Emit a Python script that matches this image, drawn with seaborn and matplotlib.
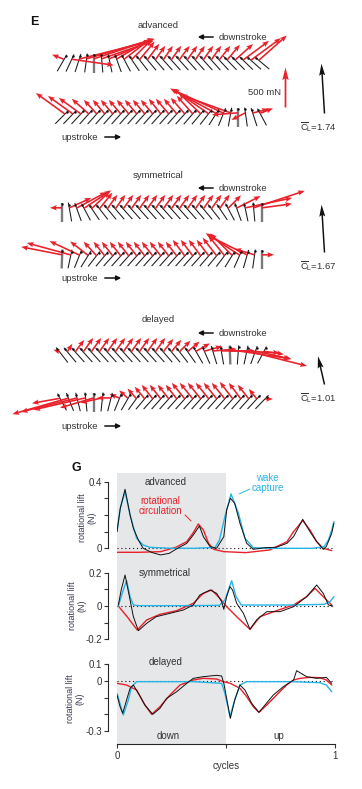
import numpy as np
import matplotlib
matplotlib.use("Agg")
import matplotlib.pyplot as plt
from matplotlib.collections import LineCollection
import seaborn as sns

# ---------------- panel E : wing chords (pitch, deg) and forces (mN), left -> right
conditions = ["advanced", "symmetrical", "delayed"]
cl_values = [1.74, 1.67, 1.01]
cl_tilt_deg = [3.5, 3.5, 13.0]

adv_down_pitch = [60, 65, 72, 82, 90, 95, 102, 110, 118, 124, 128, 130, 131, 132, 132, 132, 132, 132, 132, 132, 133, 134, 135, 136, 138, 140]
adv_down_fx = [-150, 525, 900, 850, 750, 650, 525, 425, 325, 250, 190, 150, 125, 120, 125, 130, 125, 120, 125, 125, 140, 160, 225, 325, 375, 350]
adv_down_fy = [60, -75, 225, 250, 250, 225, 225, 250, 250, 250, 225, 200, 175, 175, 175, 175, 175, 175, 175, 175, 175, 190, 200, 240, 275, 310]

adv_up_pitch = [45, 46, 47, 48, 48, 48, 48, 48, 48, 48, 48, 48, 48, 48, 48, 48, 49, 50, 52, 58, 68, 80, 90, 98, 108, 118]
adv_up_fx = [-362, -312, -275, -212, -162, -150, -150, -150, -150, -150, -150, -150, -150, -162, -162, -175, -200, -275, -450, -575, -650, -625, -325, -175, 200, 162]
adv_up_fy = [262, 225, 200, 188, 175, 175, 175, 175, 175, 175, 175, 175, 188, 188, 188, 200, 225, 262, 312, 312, 300, 225, -25, -88, 50, 62]

sym_down_pitch = [90, 100, 110, 118, 124, 128, 130, 131, 132, 132, 132, 132, 132, 132, 132, 132, 132, 131, 130, 128, 124, 118, 110, 102, 95, 90]
sym_down_fx = [-150, 275, 375, 338, 225, 162, 125, 125, 125, 125, 125, 125, 125, 125, 125, 125, 125, 125, 125, 125, 125, 162, 300, 588, 638, 375]
sym_down_fy = [0, 125, 200, 225, 212, 200, 175, 175, 175, 175, 175, 175, 175, 175, 175, 175, 175, 175, 175, 175, 175, 162, 150, 125, 212, 50]

sym_up_pitch = [88, 78, 68, 58, 52, 50, 48, 48, 48, 48, 48, 48, 48, 48, 48, 48, 48, 48, 49, 50, 53, 58, 66, 74, 82, 90]
sym_up_fx = [-512, -550, -375, -225, -162, -138, -138, -138, -138, -138, -138, -138, -138, -138, -138, -150, -150, -150, -150, -175, -200, -275, -425, -500, -250, 150]
sym_up_fy = [100, 150, 175, 175, 175, 175, 175, 175, 175, 175, 175, 175, 175, 175, 175, 200, 200, 200, 200, 225, 250, 275, 275, 250, 75, 0]

del_down_pitch = [128, 130, 132, 132, 132, 132, 132, 132, 132, 132, 132, 132, 132, 131, 130, 128, 125, 120, 114, 107, 100, 92, 86, 78, 70, 62]
del_down_fx = [-75, 62, 112, 125, 125, 125, 125, 125, 125, 125, 125, 125, 125, 125, 125, 138, 150, 175, 225, 300, 425, 625, 650, 750, 450, 250]
del_down_fy = [25, 100, 150, 175, 175, 175, 175, 175, 175, 175, 175, 175, 175, 162, 150, 138, 125, 100, 62, 25, 0, -25, -100, -188, -100, -38]

del_up_pitch = [118, 112, 104, 96, 90, 84, 76, 68, 60, 54, 50, 48, 48, 48, 48, 48, 48, 48, 48, 48, 48, 48, 48, 48, 47, 46]
del_up_fx = [-350, -700, -700, -650, -425, -275, -175, -125, -112, -112, -125, -138, -138, -138, -138, -162, -162, -162, -162, -162, -162, -162, -150, -138, -100, 100]
del_up_fy = [-62, -200, -175, -150, -125, -62, 0, 50, 100, 125, 150, 175, 175, 175, 175, 200, 200, 200, 200, 200, 200, 212, 200, 175, 125, 0]

# ---------------- panel G : rotational lift (N) over one cycle
adv_meas_t = [0.0, 0.015, 0.037, 0.06, 0.075, 0.098, 0.12, 0.16, 0.2, 0.24, 0.27, 0.32, 0.35, 0.378, 0.396, 0.427, 0.457, 0.49, 0.503, 0.52, 0.54, 0.564, 0.595, 0.625, 0.68, 0.73, 0.78, 0.81, 0.852, 0.885, 0.916, 0.946, 0.96, 0.985, 0.995]
adv_meas = [0.10, 0.24, 0.354, 0.2, 0.12, 0.05, 0.0, -0.025, -0.04, -0.03, -0.006, 0.03, 0.08, 0.134, 0.07, 0.01, 0.0, 0.07, 0.23, 0.30, 0.27, 0.15, 0.03, -0.006, 0.004, 0.006, 0.03, 0.07, 0.174, 0.10, 0.04, -0.006, 0.01, 0.09, 0.15]
adv_wake_t = [0.0, 0.015, 0.037, 0.06, 0.09, 0.12, 0.15, 0.25, 0.35, 0.45, 0.47, 0.495, 0.523, 0.557, 0.587, 0.625, 0.7, 0.8, 0.9, 0.95, 0.97, 0.985, 0.995]
adv_wake = [0.10, 0.24, 0.34, 0.2, 0.06, 0.02, 0.006, 0.0, 0.0, 0.005, 0.05, 0.19, 0.326, 0.21, 0.06, 0.004, 0.0, 0.0, 0.0, 0.01, 0.05, 0.11, 0.16]
adv_rot_t = [0.0, 0.1, 0.2, 0.27, 0.32, 0.35, 0.373, 0.396, 0.42, 0.443, 0.49, 0.59, 0.7, 0.78, 0.81, 0.852, 0.885, 0.916, 0.946, 0.985]
adv_rot = [-0.024, -0.024, -0.02, 0.006, 0.04, 0.094, 0.146, 0.11, 0.03, -0.006, -0.02, -0.026, -0.01, 0.04, 0.1, 0.166, 0.11, 0.04, 0.0, -0.014]

sym_meas_t = [0.006, 0.02, 0.037, 0.06, 0.075, 0.098, 0.136, 0.18, 0.243, 0.304, 0.35, 0.38, 0.427, 0.457, 0.48, 0.49, 0.503, 0.518, 0.53, 0.549, 0.58, 0.61, 0.64, 0.687, 0.748, 0.81, 0.87, 0.916, 0.946, 0.97, 0.99]
sym_meas = [0.006, 0.1, 0.186, 0.036, -0.064, -0.148, -0.104, -0.064, -0.044, -0.024, 0.006, 0.066, 0.096, 0.076, 0.026, -0.02, 0.056, 0.116, 0.096, 0.016, -0.044, -0.14, -0.084, -0.034, -0.034, -0.004, 0.056, 0.126, 0.076, 0.006, 0.0]
sym_wake_t = [0.006, 0.029, 0.044, 0.06, 0.075, 0.1, 0.3, 0.47, 0.495, 0.526, 0.546, 0.57, 0.6, 0.8, 0.95, 0.977, 0.995]
sym_wake = [0.0, 0.096, 0.152, 0.056, 0.006, 0.002, 0.002, 0.004, 0.036, 0.152, 0.056, 0.006, 0.006, 0.006, 0.01, 0.026, 0.056]
sym_rot_t = [0.006, 0.05, 0.093, 0.136, 0.197, 0.274, 0.35, 0.396, 0.434, 0.472, 0.503, 0.549, 0.61, 0.656, 0.732, 0.81, 0.87, 0.908, 0.946, 0.985]
sym_rot = [0.0, -0.07, -0.144, -0.084, -0.05, -0.028, 0.016, 0.076, 0.096, 0.046, -0.004, -0.064, -0.14, -0.064, -0.028, 0.006, 0.056, 0.106, 0.056, 0.006]

del_meas_t = [0.0, 0.014, 0.026, 0.044, 0.06, 0.075, 0.098, 0.128, 0.164, 0.197, 0.228, 0.274, 0.32, 0.35, 0.396, 0.457, 0.48, 0.49, 0.51, 0.52, 0.54, 0.564, 0.587, 0.618, 0.651, 0.679, 0.717, 0.763, 0.81, 0.824, 0.87, 0.916, 0.96, 0.985]
del_meas = [-0.084, -0.154, -0.194, -0.114, -0.044, -0.024, -0.074, -0.144, -0.2, -0.164, -0.104, -0.064, -0.014, 0.016, 0.026, 0.034, 0.03, -0.014, -0.154, -0.224, -0.114, -0.024, -0.054, -0.134, -0.188, -0.144, -0.084, -0.034, 0.006, 0.062, 0.026, 0.016, 0.022, -0.014]
del_wake_t = [0.0, 0.029, 0.052, 0.067, 0.09, 0.2, 0.35, 0.48, 0.495, 0.518, 0.54, 0.564, 0.595, 0.8, 0.93, 0.96, 0.985]
del_wake = [-0.074, -0.204, -0.114, -0.034, -0.004, -0.004, -0.004, -0.014, -0.074, -0.214, -0.114, -0.024, -0.004, -0.004, -0.01, -0.024, -0.064]
del_rot_t = [0.0, 0.044, 0.09, 0.128, 0.159, 0.197, 0.243, 0.289, 0.35, 0.396, 0.457, 0.488, 0.52, 0.564, 0.595, 0.625, 0.651, 0.687, 0.732, 0.778, 0.81, 0.84, 0.885, 0.93, 0.96, 0.985]
del_rot = [-0.014, -0.024, -0.054, -0.144, -0.2, -0.154, -0.084, -0.024, 0.006, 0.016, 0.012, -0.004, -0.014, -0.044, -0.094, -0.154, -0.188, -0.144, -0.084, -0.024, 0.006, 0.016, 0.022, 0.02, 0.006, -0.024]

adv_ticks = [0, 0.1, 0.2, 0.3, 0.4]
adv_ticklabels = ["0", "", "", "", "0.4"]
sym_ticks = [-0.2, -0.1, 0, 0.1, 0.2]
sym_ticklabels = ["-0.2", "", "0", "", "0.2"]
del_ticks = [-0.3, -0.2, -0.1, 0, 0.1]
del_ticklabels = ["-0.3", "", "", "0", "0.1"]

RED = "#e8212b"
CYAN = "#27b4e6"
GREY = "#e6e7e8"
TXT = "#333333"

sns.set_style("ticks")
plt.rcParams["font.family"] = ["Liberation Sans", "DejaVu Sans"]
plt.rcParams["mathtext.fontset"] = "custom"
plt.rcParams["mathtext.rm"] = "Liberation Sans"
plt.rcParams["mathtext.it"] = "Liberation Sans:italic"

W, H = 362, 789
fig = plt.figure(figsize=(W / 100, H / 100), dpi=100)

# canvas in pixel units for panel E
cv = fig.add_axes([0, 0, 1, 1])
cv.set_xlim(0, W)
cv.set_ylim(H, 0)
cv.axis("off")

CHORD = 19
N_SCALE = 12.5          # mN per pixel
xs = 62 + 8 * np.arange(26)

rows = [
    (adv_down_pitch, adv_down_fx, adv_down_fy, 63),
    (adv_up_pitch, adv_up_fx, adv_up_fy, 117),
    (sym_down_pitch, sym_down_fx, sym_down_fy, 212),
    (sym_up_pitch, sym_up_fx, sym_up_fy, 259),
    (del_down_pitch, del_down_fx, del_down_fy, 355),
    (del_up_pitch, del_up_fx, del_up_fy, 402),
]

for pitch, fx, fy, yrow in rows:
    phi = np.deg2rad(np.array(pitch))
    ux, uy = np.cos(phi), -np.sin(phi)
    h = CHORD / 2
    segs = [[(x - h * a, yrow - h * b), (x + h * a, yrow + h * b)] for x, a, b in zip(xs, ux, uy)]
    vert = np.abs(np.array(pitch) - 90) < 3
    cols = ["#7a7a7a" if v else "#1a1a1a" for v in vert]
    lws = [1.7 if v else 0.75 for v in vert]
    cv.add_collection(LineCollection(segs, colors=cols, linewidths=lws, zorder=2))
    cv.quiver(xs + 0.22 * CHORD * ux, yrow + 0.22 * CHORD * uy, np.array(fx), -np.array(fy),
              angles="xy", scale_units="xy", scale=N_SCALE, color=RED, units="dots",
              width=1.6, headwidth=3.3, headlength=4.2, headaxislength=3.7, zorder=3)
    cv.scatter(xs + 0.4 * CHORD * ux, yrow + 0.4 * CHORD * uy, s=3, color="#111111",
               linewidths=0, zorder=4)

title_y = [25, 175, 319]
down_y = [37, 188, 333]
up_y = [137, 278, 426]
cl_text_y = [127, 266, 398]
CL_LEN = 28.7
for i, name in enumerate(conditions):
    cv.text(158, title_y[i], name, ha="center", va="center", fontsize=6.8, color=TXT)
    cv.annotate("", xy=(195, down_y[i]), xytext=(216, down_y[i]),
                arrowprops=dict(arrowstyle="-|>", color="#111111", lw=1.1, mutation_scale=7))
    cv.text(219, down_y[i], "downstroke", ha="left", va="center", fontsize=6.8, color=TXT)
    cv.text(98, up_y[i], "upstroke", ha="right", va="center", fontsize=6.8, color=TXT)
    cv.annotate("", xy=(124, up_y[i]), xytext=(102, up_y[i]),
                arrowprops=dict(arrowstyle="-|>", color="#111111", lw=1.1, mutation_scale=7))
    L = CL_LEN * cl_values[i]
    a = np.deg2rad(cl_tilt_deg[i])
    cv.quiver([324], [cl_text_y[i] - 14], [-L * np.sin(a)], [-L * np.cos(a)], angles="xy",
              scale_units="xy", scale=1, color="#111111", units="dots", width=1.5,
              headwidth=4, headlength=8, headaxislength=7, zorder=3)
    cv.text(300, cl_text_y[i], r"$\overline{\mathrm{C}}_\mathrm{L}$" + f"={cl_values[i]:.2f}",
            ha="left", va="center", fontsize=6.8, color=TXT)

# 500 mN scale bar
cv.quiver([285], [107], [0], [-500], angles="xy", scale_units="xy", scale=N_SCALE, color=RED,
          units="dots", width=1.7, headwidth=3.8, headlength=7.5, headaxislength=6.5, zorder=3)
cv.text(281, 92, "500 mN", ha="right", va="center", fontsize=6.8, color=TXT)
cv.text(34, 22, "E", ha="center", va="center", fontsize=9, fontweight="bold", color="#111111")
cv.text(76, 468, "G", ha="center", va="center", fontsize=9, fontweight="bold", color="#111111")


# ---------------- panel G
def rect(x0, x1, yt, yb):
    return [x0 / W, 1 - yb / H, (x1 - x0) / W, (yb - yt) / H]


X0, X1 = 117, 335
K = 166.7  # px per N

bg = fig.add_axes(rect(X0, X1, 473, 744))
bg.set_xlim(0, 1)
bg.set_ylim(0, 1)
bg.axvspan(0, 0.5, color=GREY, lw=0)
for s in ["left", "top", "right"]:
    bg.spines[s].set_visible(False)
bg.spines["bottom"].set_linewidth(0.8)
bg.set_yticks([])
bg.set_xticks([0, 0.5, 1])
bg.set_xticklabels(["0", "", "1"])
bg.tick_params(axis="x", direction="out", length=3, width=0.8, labelsize=7, pad=2, colors=TXT)
bg.set_xlabel("cycles", fontsize=7, labelpad=0, color=TXT)
bg.text(0.235, 0.03, "down", ha="center", va="center", fontsize=7, color=TXT)
bg.text(0.74, 0.03, "up", ha="center", va="center", fontsize=7, color=TXT)

panels = [
    (adv_meas_t, adv_meas, adv_wake_t, adv_wake, adv_rot_t, adv_rot, adv_ticks, adv_ticklabels, 548.3, (-0.05, 0.42), -0.096),
    (sym_meas_t, sym_meas, sym_wake_t, sym_wake, sym_rot_t, sym_rot, sym_ticks, sym_ticklabels, 606, (-0.23, 0.23), -0.142),
    (del_meas_t, del_meas, del_wake_t, del_wake, del_rot_t, del_rot, del_ticks, del_ticklabels, 681, (-0.33, 0.12), -0.15),
]
axes = []
for (mt, mv, wt, wv, rt, rv, ticks, tlabels, y0, ylim, labx) in panels:
    ax = fig.add_axes(rect(X0, X1, y0 - ylim[1] * K, y0 - ylim[0] * K))
    ax.patch.set_alpha(0)
    ax.axhline(0, ls=(0, (1, 2.5)), color="#111111", lw=0.8, zorder=1)
    sns.lineplot(x=rt, y=rv, ax=ax, color=RED, lw=1.0, estimator=None, zorder=2)
    sns.lineplot(x=wt, y=wv, ax=ax, color=CYAN, lw=1.0, estimator=None, zorder=3)
    sns.lineplot(x=mt, y=mv, ax=ax, color="#111111", lw=0.7, estimator=None, zorder=4)
    ax.set_xlim(0, 1)
    ax.set_ylim(*ylim)
    for s in ["top", "right", "bottom"]:
        ax.spines[s].set_visible(False)
    ax.spines["left"].set_bounds(ticks[0], ticks[-1])
    ax.spines["left"].set_position(("outward", 6.5))
    ax.spines["left"].set_linewidth(0.8)
    ax.set_yticks(ticks)
    ax.set_yticklabels(tlabels)
    ax.tick_params(axis="y", direction="out", length=3, width=0.8, labelsize=7, pad=1.5, colors=TXT)
    ax.tick_params(axis="x", bottom=False, labelbottom=False)
    ax.set_xlabel("")
    ax.set_ylabel("rotational lift\n(N)", fontsize=6.5, color="#3b3b55", linespacing=1.0)
    ax.yaxis.set_label_coords(labx, 0.5)
    axes.append(ax)

a0, a1, a2 = axes
a0.text(0.225, 0.40, "advanced", ha="center", va="center", fontsize=7, color=TXT)
a0.text(0.20, 0.254, "rotational\ncirculation", ha="center", va="center", fontsize=7,
        color=RED, linespacing=1.0)
a0.annotate("", xy=(0.349, 0.152), xytext=(0.303, 0.212),
            arrowprops=dict(arrowstyle="-", color=RED, lw=0.7))
a0.text(0.69, 0.39, "wake\ncapture", ha="center", va="center", fontsize=7, color=CYAN,
        linespacing=1.0)
a0.annotate("", xy=(0.55, 0.32), xytext=(0.62, 0.362),
            arrowprops=dict(arrowstyle="-", color=CYAN, lw=0.7))
a1.text(0.22, 0.198, "symmetrical", ha="center", va="center", fontsize=7, color=TXT)
a2.text(0.225, 0.114, "delayed", ha="center", va="center", fontsize=7, color=TXT)

fig.savefig("out.png", dpi=100)
